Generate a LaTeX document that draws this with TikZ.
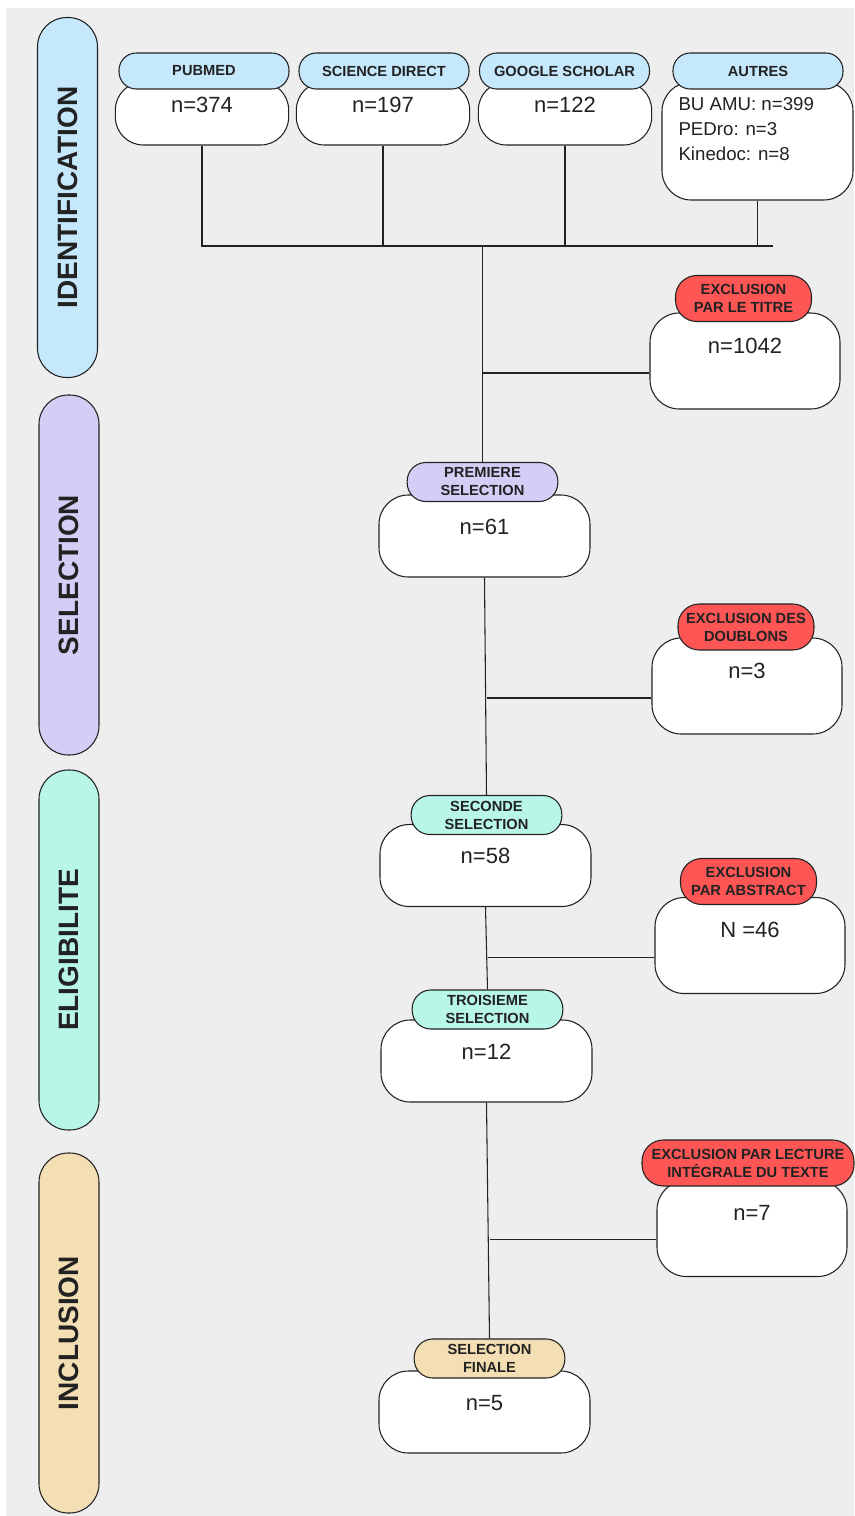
\documentclass[tikz,border=0pt]{standalone}
\usepackage{fontspec}
\setmainfont{Liberation Sans}
\usepackage{tikz}

\definecolor{bggray}{HTML}{EEEEEE}
\definecolor{idblue}{HTML}{C6E8FC}
\definecolor{sellilac}{HTML}{D5CDF6}
\definecolor{eligmint}{HTML}{B8F6E8}
\definecolor{inclbeige}{HTML}{F4DFB4}
\definecolor{exclred}{HTML}{FE5555}
\definecolor{inkgray}{HTML}{222222}

\begin{document}
\begin{tikzpicture}[x=0.75pt, y=-0.75pt, line width=0.8pt, color=inkgray,
  phase/.style={draw, rounded corners=22pt, rotate=90, minimum width=270pt, minimum height=45pt, font=\fontsize{21}{25}\selectfont\bfseries},
  srchead/.style={draw, fill=idblue, rounded corners=13pt, minimum width=127.5pt, minimum height=27pt, inner sep=0pt, font=\fontsize{11}{13}\selectfont\bfseries},
  srcbox/.style={draw, fill=white, rounded corners=21pt, minimum width=130pt, inner ysep=0pt, text height=23.25pt, text depth=24pt, font=\fontsize{16.5}{19}\selectfont},
  stephead/.style={draw, rounded corners=14pt, minimum width=113pt, minimum height=29.25pt, inner sep=0pt, align=center, font=\fontsize{11}{13.5}\selectfont\bfseries},
  stepbox/.style={draw, fill=white, rounded corners=22pt, minimum width=158.25pt, inner ysep=0pt, text height=29.25pt, text depth=32.25pt, font=\fontsize{16.5}{19}\selectfont},
  exclhead/.style={stephead, fill=exclred, minimum width=102pt, minimum height=34.5pt, rounded corners=16pt},
  exclbox/.style={stepbox, minimum width=142.5pt, text height=30pt, text depth=42pt}]

  \useasboundingbox (0,0) rectangle (854,1516);
  \fill[bggray] (6,8) rectangle (854,1516);

  \node[phase, fill=idblue] (pIdent) at (67.5,197.5) {IDENTIFICATION};
  \node[phase, fill=sellilac] (pSelect) at (69,575) {SELECTION};
  \node[phase, fill=eligmint] (pElig) at (69,950) {ELIGIBILITE};
  \node[phase, fill=inclbeige] (pIncl) at (69,1333) {INCLUSION};

  \node[srcbox] (bPubmed) at (202,113.5) {n=374};
  \node[srcbox] (bScience) at (383,113.5) {n=197};
  \node[srcbox] (bGoogle) at (565,113.5) {n=122};
  \node[draw, fill=white, rounded corners=22pt, minimum width=143.25pt, minimum height=88.5pt] (bAutres) at (757.5,141) {};
  \node[anchor=north west, align=left, inner sep=0pt, font=\fontsize{14}{18.75}\selectfont] (tAutres) at (678,97) {BU AMU: n=399\\PEDro: n=3\\Kinedoc: n=8};

  \node[srchead] (hPubmed) at (204,71) {PUBMED};
  \node[srchead] (hScience) at (384,71) {SCIENCE DIRECT};
  \node[srchead] (hGoogle) at (564.5,71) {GOOGLE SCHOLAR};
  \node[srchead] (hAutres) at (758,71) {AUTRES};

  \node[stepbox] (bFirst) at (484.5,536) {n=61};
  \node[stepbox] (bSecond) at (485.5,865.5) {n=58};
  \node[stepbox] (bThird) at (486.5,1061) {n=12};
  \node[stepbox] (bFinal) at (484.5,1412) {n=5};

  \node[stephead, fill=sellilac] (hFirst) at (482.5,482) {PREMIERE\\SELECTION};
  \node[stephead, fill=eligmint] (hSecond) at (486.5,815) {SECONDE\\SELECTION};
  \node[stephead, fill=eligmint] (hThird) at (487.5,1009.5) {TROISIEME\\SELECTION};
  \node[stephead, fill=inclbeige] (hFinal) at (489.5,1358.5) {SELECTION\\FINALE};

  \node[exclbox] (bTitle) at (745,361) {n=1042};
  \node[exclbox] (bDup) at (747,686) {n=3};
  \node[exclbox] (bAbs) at (750,945.5) {N =46};
  \node[exclbox] (bRead) at (752,1228.5) {n=7};

  \node[exclhead] (hTitle) at (743.5,298.5) {EXCLUSION\\PAR LE TITRE};
  \node[exclhead] (hDup) at (746,627) {EXCLUSION DES\\DOUBLONS};
  \node[exclhead] (hAbs) at (748.5,881.5) {EXCLUSION\\PAR ABSTRACT};
  \node[exclhead, minimum width=159pt] (hRead) at (748,1163) {EXCLUSION PAR LECTURE\\INTÉGRALE DU TEXTE};

  \coordinate (busEnd) at (773,246);
  \draw (bPubmed.south) -- (bPubmed.south |- busEnd) -- (busEnd);
  \draw (bScience.south) -- (bScience.south |- busEnd);
  \draw (bGoogle.south) -- (bGoogle.south |- busEnd);
  \draw (bAutres.south) -- (bAutres.south |- busEnd);
  \draw (hFirst.north |- busEnd) -- (hFirst.north);

  \draw (bFirst.south) -- (hSecond.north);
  \draw (bSecond.south) -- (hThird.north);
  \draw (bThird.south) -- (hFinal.north);

  \draw ([yshift=-9pt]bTitle.west) -- ([yshift=-9pt]bTitle.west -| hFirst.north);
  \draw ([yshift=-9pt]bDup.west) -- ([yshift=-9pt]bDup.west -| hSecond.north);
  \draw ([yshift=-9pt]bAbs.west) -- ([yshift=-9pt]bAbs.west -| hThird.north);
  \draw ([yshift=-8pt]bRead.west) -- ([yshift=-8pt]bRead.west -| hFinal.north);
\end{tikzpicture}
\end{document}
